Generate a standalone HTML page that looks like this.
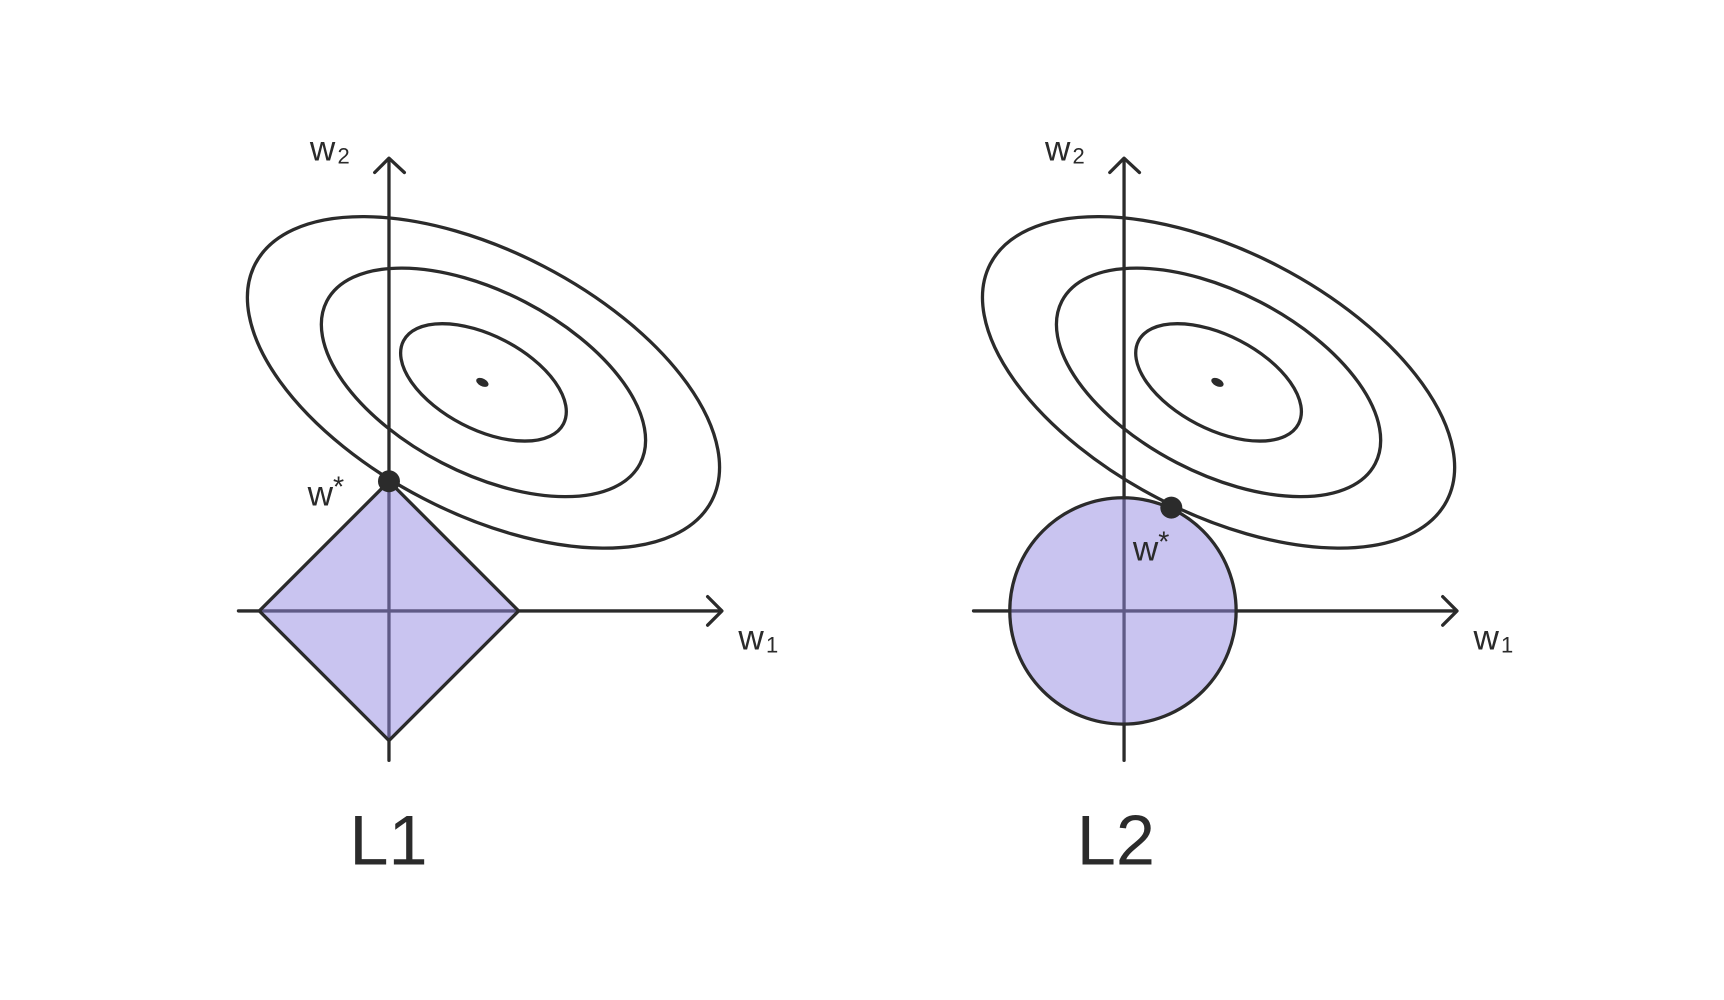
<!DOCTYPE html>
<html><head><meta charset="utf-8"><style>
html,body{margin:0;padding:0;background:#fff;}
svg{display:block;}
text{font-family:"Liberation Sans",sans-serif;fill:#2b2b2b;}
</style></head><body>
<svg width="1724" height="1000" viewBox="0 0 1569 910.1" xmlns="http://www.w3.org/2000/svg">
<g fill="none" stroke="#2b2b2b" stroke-width="3" stroke-linecap="round" stroke-linejoin="round">
  <line x1="354" y1="145" x2="354" y2="692"/>
  <polyline points="341,157 354,144 368,157"/>
  <line x1="217" y1="556" x2="656" y2="556"/>
  <polyline points="644,543 657,556 644,569"/>
  <g transform="translate(440,348) rotate(27.4)">
    <ellipse rx="234" ry="119"/>
    <ellipse rx="160.6" ry="82.4"/>
    <ellipse rx="82" ry="42.6"/>
  </g>
  <line x1="1023" y1="145" x2="1023" y2="692"/>
  <polyline points="1010,157 1023,144 1037,157"/>
  <line x1="886" y1="556" x2="1325" y2="556"/>
  <polyline points="1313,543 1326,556 1313,569"/>
  <g transform="translate(1109,348) rotate(27.4)">
    <ellipse rx="234" ry="119"/>
    <ellipse rx="160.6" ry="82.4"/>
    <ellipse rx="82" ry="42.6"/>
  </g>
</g>
<polygon points="236,556 354,438 472,556 354,674" fill="rgb(147,137,225)" fill-opacity="0.5"/>
<polygon points="236,556 354,438 472,556 354,674" fill="none" stroke="#2b2b2b" stroke-width="3" stroke-linejoin="round"/>
<circle cx="1022" cy="556" r="103" fill="rgb(147,137,225)" fill-opacity="0.5"/>
<circle cx="1022" cy="556" r="103" fill="none" stroke="#2b2b2b" stroke-width="3"/>
<ellipse cx="439" cy="348" rx="6" ry="3.5" transform="rotate(27 439 348)" fill="#2b2b2b"/>
<ellipse cx="1108" cy="348" rx="6" ry="3.5" transform="rotate(27 1108 348)" fill="#2b2b2b"/>
<circle cx="354" cy="438" r="10" fill="#2b2b2b"/>
<circle cx="1066" cy="462" r="10" fill="#2b2b2b"/>
<text x="282" y="146" font-size="32">w<tspan font-size="20" dx="2" dy="3">2</tspan></text>
<text x="951" y="146" font-size="32">w<tspan font-size="20" dx="2" dy="3">2</tspan></text>
<text x="672" y="591" font-size="32">w<tspan font-size="20" dx="2" dy="3">1</tspan></text>
<text x="1341" y="591" font-size="32">w<tspan font-size="20" dx="2" dy="3">1</tspan></text>
<text x="280" y="460" font-size="32">w<tspan font-size="26" dy="-8">*</tspan></text>
<text x="1031" y="510" font-size="32">w<tspan font-size="26" dy="-8">*</tspan></text>
<text x="318" y="787" font-size="64">L1</text>
<text x="980" y="787" font-size="64">L2</text>
</svg>
</body></html>
